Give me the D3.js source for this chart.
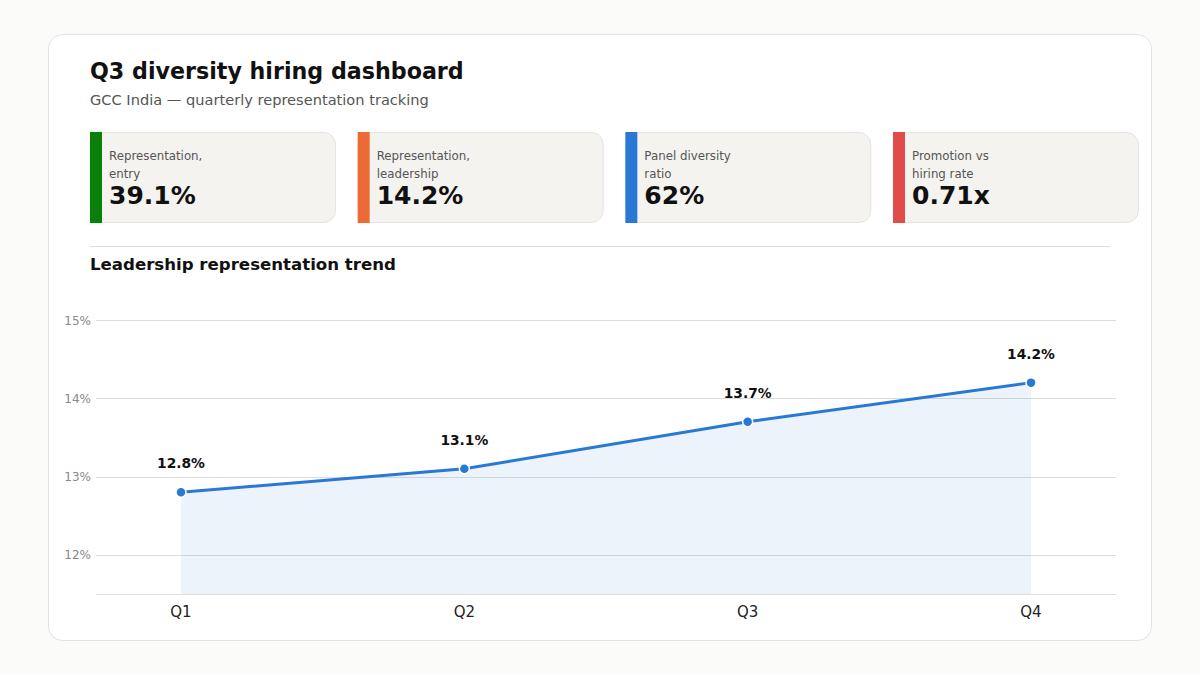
<!DOCTYPE html>
<html><head><meta charset="utf-8">
<script src="https://cdn.jsdelivr.net/npm/d3@7"></script>
<style>
html,body{margin:0;padding:0;background:#fbfbf9;}
svg{display:block;font-family:"DejaVu Sans",sans-serif;}
</style></head>
<body>
<svg id="c" width="1200" height="675"></svg>
<script>
const quarters = ["Q1","Q2","Q3","Q4"];
const leadership = [12.8, 13.1, 13.7, 14.2];
const yTicks = [12, 13, 14, 15];
const kpiLabels = [["Representation,","entry"],["Representation,","leadership"],["Panel diversity","ratio"],["Promotion vs","hiring rate"]];
const kpiValues = ["39.1%","14.2%","62%","0.71x"];
const kpiColors = ["#098109","#ec6a36","#2a78d6","#e24b4a"];

const svg = d3.select("#c");
svg.append("rect").attr("x",48.5).attr("y",34.5).attr("width",1103).attr("height",606)
  .attr("rx",14).attr("fill","#fff").attr("stroke","#e2e2e0");

svg.append("text").attr("x",90).attr("y",79).attr("font-size",22.2).attr("font-weight","bold")
  .attr("fill","#111").text("Q3 diversity hiring dashboard");
svg.append("text").attr("x",90).attr("y",105).attr("font-size",14.6).attr("fill","#555")
  .text("GCC India — quarterly representation tracking");

// KPI cards
const kx = d3.scaleBand().domain(d3.range(4)).range([90,1139]).paddingInner(0.081);
const cards = svg.selectAll("g.kpi").data(kpiValues).join("g").attr("class","kpi")
  .attr("transform",(d,i)=>`translate(${kx(i)},132)`);
cards.append("rect").attr("x",0.5).attr("y",0.5).attr("width",kx.bandwidth()-1).attr("height",90)
  .attr("rx",12).attr("fill","#f4f3f0").attr("stroke","#e4e3e0");
cards.append("rect").attr("x",0).attr("y",0).attr("width",12).attr("height",91)
  .attr("fill",(d,i)=>kpiColors[i]);
cards.append("text").attr("x",19).attr("y",28).attr("font-size",11.8).attr("fill","#555")
  .text((d,i)=>kpiLabels[i][0]);
cards.append("text").attr("x",19).attr("y",46).attr("font-size",11.8).attr("fill","#555")
  .text((d,i)=>kpiLabels[i][1]);
cards.append("text").attr("x",19).attr("y",72).attr("font-size",25).attr("font-weight","bold")
  .attr("fill","#111").text(d=>d);

svg.append("line").attr("x1",90).attr("x2",1110).attr("y1",246.5).attr("y2",246.5).attr("stroke","#dedddb");
svg.append("text").attr("x",90).attr("y",270).attr("font-size",16.6).attr("font-weight","bold")
  .attr("fill","#111").text("Leadership representation trend");

// chart
const x = d3.scalePoint().domain(quarters).range([96,1116]).padding(0.3);
const y = d3.scaleLinear().domain([11.5,15]).range([594,320]);

const grid = svg.append("g");
grid.selectAll("line").data(yTicks).join("line")
  .attr("x1",96).attr("x2",1116).attr("y1",d=>Math.round(y(d))+0.5).attr("y2",d=>Math.round(y(d))+0.5)
  .attr("stroke","#dcdcdc");
grid.selectAll("text").data(yTicks).join("text")
  .attr("x",91).attr("y",d=>y(d)+4.5).attr("text-anchor","end").attr("font-size",12).attr("fill","#888")
  .text(d=>d+"%");

const area = d3.area().x((d,i)=>x(quarters[i])).y0(y(11.5)).y1(d=>y(d));
svg.append("path").datum(leadership).attr("d",area).attr("fill","#2a78d6").attr("fill-opacity",0.09);

svg.append("line").attr("x1",96).attr("x2",1116).attr("y1",594.5).attr("y2",594.5).attr("stroke","#e0dfd9");

const line = d3.line().x((d,i)=>x(quarters[i])).y(d=>y(d));
svg.append("path").datum(leadership).attr("d",line).attr("fill","none").attr("stroke","#2a78d6").attr("stroke-width",3);

svg.selectAll("circle.pt").data(leadership).join("circle").attr("class","pt")
  .attr("cx",(d,i)=>x(quarters[i])).attr("cy",d=>y(d)).attr("r",5)
  .attr("fill","#2a78d6").attr("stroke","#fff").attr("stroke-width",1.5);

svg.selectAll("text.vl").data(leadership).join("text").attr("class","vl")
  .attr("x",(d,i)=>x(quarters[i])).attr("y",d=>y(d)-24).attr("text-anchor","middle")
  .attr("font-size",13.8).attr("font-weight","bold").attr("fill","#111").text(d=>d.toFixed(1)+"%");

svg.selectAll("text.xl").data(quarters).join("text").attr("class","xl")
  .attr("x",d=>x(d)).attr("y",617).attr("text-anchor","middle").attr("font-size",15).attr("fill","#222")
  .text(d=>d);
</script>
</body></html>
